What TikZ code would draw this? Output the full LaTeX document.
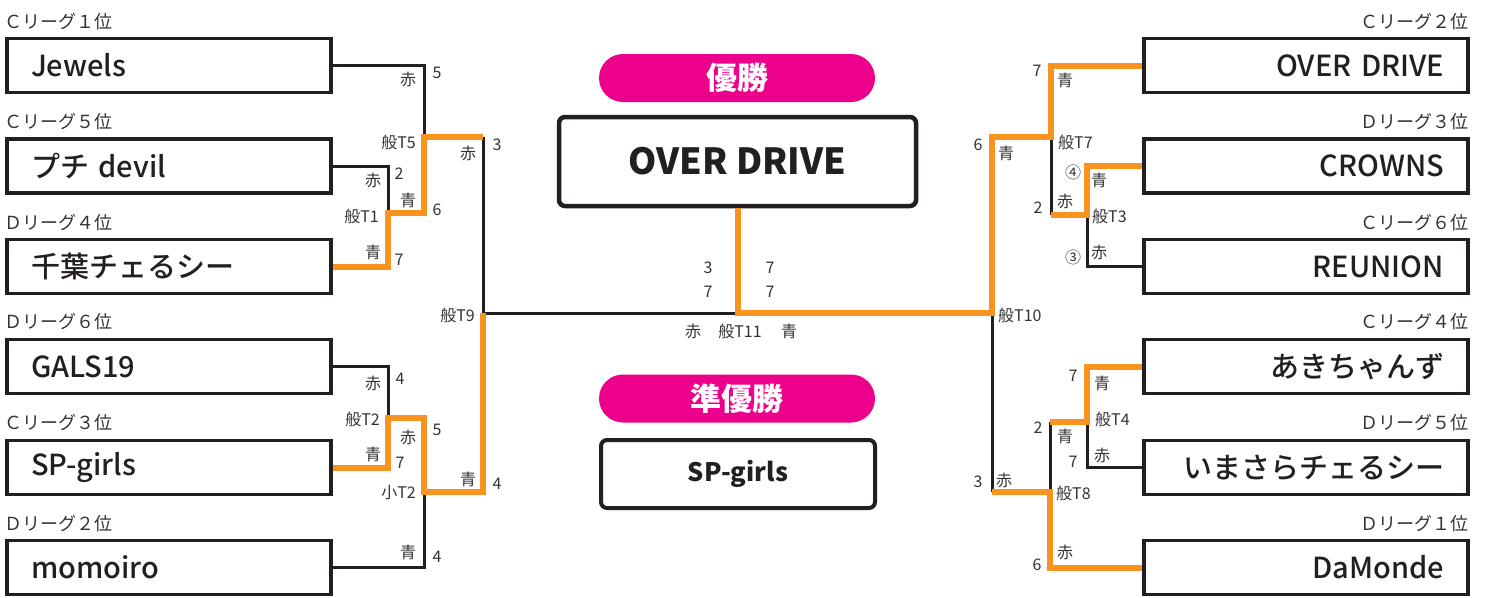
\documentclass[tikz,border=0pt]{standalone}
\usepackage{fontspec}
\setmainfont{Noto Sans CJK JP}
\newfontfamily\medfont{Noto Sans CJK JP}[UprightFont={* Medium}]
\newfontfamily\blackfont{Noto Sans CJK JP}[UprightFont={* Black}]
\definecolor{ink}{HTML}{231F20}
\definecolor{win}{HTML}{F7931E}
\definecolor{pinkc}{HTML}{EC008C}
\definecolor{lbl}{HTML}{333333}
\tikzset{
 teambox/.style={draw=ink, line width=3.2pt, minimum width=324pt, minimum height=54pt, inner xsep=24pt, inner ysep=0pt, text width=276pt, font=\medfont\fontsize{29}{34}\selectfont, text=ink},
 lteam/.style={teambox, align=left},
 rteam/.style={teambox, align=right},
 league/.style={font=\fontsize{18}{20}\selectfont, text=lbl, inner sep=0pt},
 sm/.style={font=\fontsize{16}{18}\selectfont, text=lbl, inner sep=0pt},
 blk/.style={draw=ink, line width=3pt},
 org/.style={draw=win, line width=6pt},
 pill/.style={fill=pinkc, rounded corners=24pt, minimum width=276pt, minimum height=48pt, text=white, font=\blackfont\fontsize{31}{34}\selectfont, inner sep=0pt},
 resbox/.style={draw=ink, rounded corners=6pt, text=ink, inner sep=0pt}
}
\begin{document}
\begin{tikzpicture}[x=1pt,y=-1pt]
\useasboundingbox[fill=white] (0,0) rectangle (1485,597);
% league labels
\node[league,anchor=west] (g1) at (4,22) {Ｃリーグ１位};
\node[league,anchor=west] (g2) at (4,122) {Ｃリーグ５位};
\node[league,anchor=west] (g3) at (4,223) {Ｄリーグ４位};
\node[league,anchor=west] (g4) at (4,322) {Ｄリーグ６位};
\node[league,anchor=west] (g5) at (4,423) {Ｃリーグ３位};
\node[league,anchor=west] (g6) at (4,524) {Ｄリーグ２位};
\node[league,anchor=east] (h1) at (1469,22) {Ｃリーグ２位};
\node[league,anchor=east] (h2) at (1469,122) {Ｄリーグ３位};
\node[league,anchor=east] (h3) at (1469,223) {Ｃリーグ６位};
\node[league,anchor=east] (h4) at (1469,322) {Ｃリーグ４位};
\node[league,anchor=east] (h5) at (1469,423) {Ｄリーグ５位};
\node[league,anchor=east] (h6) at (1469,524) {Ｄリーグ１位};
% team boxes
\node[lteam] (L1) at (169,65.5) {Jewels};
\node[lteam] (L2) at (169,166) {プチ devil};
\node[lteam] (L3) at (169,266.5) {千葉チェるシー};
\node[lteam] (L4) at (169,366.5) {GALS19};
\node[lteam] (L5) at (169,467.5) {SP-girls};
\node[lteam] (L6) at (169,567.5) {momoiro};
\node[rteam] (R1) at (1306,65.5) {OVER DRIVE};
\node[rteam] (R2) at (1306,166) {CROWNS};
\node[rteam] (R3) at (1306,266.5) {REUNION};
\node[rteam] (R4) at (1306,366.5) {あきちゃんず};
\node[rteam] (R5) at (1306,467.5) {いまさらチェるシー};
\node[rteam] (R6) at (1306,567.5) {DaMonde};
% centre
\node[pill] (P1) at (737,78) {優勝};
\node[pill] (P2) at (737,398.5) {準優勝};
\node[resbox, line width=4.5pt, minimum width=357pt, minimum height=89pt, font=\bfseries\fontsize{36}{40}\selectfont] (W) at (737.5,161.5) {OVER DRIVE};
\node[resbox, line width=4pt, minimum width=274pt, minimum height=68pt, font=\bfseries\fontsize{25.5}{30}\selectfont] (RU) at (738,474) {SP-girls};
% junctions
\coordinate (T1) at (388,213);
\coordinate (T5) at (424,137);
\coordinate (T2) at (388,418);
\coordinate (S2) at (424,492);
\coordinate (T9) at (483,313);
\coordinate (F) at (737.5,313);
\coordinate (T10) at (992,313);
\coordinate (T7) at (1051,137);
\coordinate (T3) at (1087,215);
\coordinate (T4) at (1087,422);
\coordinate (T8) at (1050,492);
% black lines
\draw[blk] (L1.east) -| (T5);
\draw[blk] (L2.east) -| (T1);
\draw[blk] (T5 -| T9) -- (T9) -- (F);
\draw[blk] (L4.east) -| (T2);
\draw[blk] (L6.east) -| (S2);
\draw[blk] (T3 -| T7) -- (T7);
\draw[blk] (R3.west) -| (T3);
\draw[blk] (T4 -| T8) -- (T8);
\draw[blk] (R5.west) -| (T4);
\draw[blk] (T8 -| T10) -- (T10);
% orange lines
\draw[org] (L3.east) -| (T1) -| (T5) -- (T5 -| T9);
\draw[org] (L5.east) -| (T2) -| (S2) -| (T9);
\draw[org] (W.south) |- (T10) |- (T7) |- (R1.west);
\draw[org] (R2.west) -| (T3) -- (T3 -| T7);
\draw[org] (R4.west) -| (T4) -- (T4 -| T8);
\draw[org] (R6.west) -| (T8) -- (T8 -| T10);
% left small labels
\node[sm] (a1) at (408,79) {赤};
\node[sm] (a2) at (437,73) {5};
\node[sm,anchor=east] (a3) at (416,142) {般T5};
\node[sm] (a4) at (468,153) {赤};
\node[sm] (a5) at (497,145) {3};
\node[sm] (a6) at (373,180) {赤};
\node[sm] (a7) at (399,174) {2};
\node[sm] (a8) at (408,200) {青};
\node[sm] (a9) at (437,210) {6};
\node[sm,anchor=east] (a10) at (379,216) {般T1};
\node[sm] (a11) at (373,252) {青};
\node[sm] (a12) at (399,260) {7};
\node[sm] (b1) at (373,383) {赤};
\node[sm] (b2) at (400,379) {4};
\node[sm,anchor=east] (b3) at (380,419) {般T2};
\node[sm] (b4) at (408,437) {赤};
\node[sm] (b5) at (437,430) {5};
\node[sm] (b6) at (373,454) {青};
\node[sm] (b7) at (400,463) {7};
\node[sm] (b8) at (468,479) {青};
\node[sm] (b9) at (497,484) {4};
\node[sm,anchor=east] (b10) at (416,493) {小T2};
\node[sm] (b11) at (408,552) {青};
\node[sm] (b12) at (437,557) {4};
\node[sm,anchor=east] (b13) at (475,315) {般T9};
% centre labels
\node[sm] (c1) at (708,268) {3};
\node[sm] (c2) at (708,292) {7};
\node[sm] (c3) at (770,268) {7};
\node[sm] (c4) at (770,292) {7};
\node[sm] (c5) at (693,331) {赤};
\node[sm] (c6) at (740,331) {般T11};
\node[sm] (c7) at (789,331) {青};
% right small labels
\node[sm] (d1) at (1037,71) {7};
\node[sm] (d2) at (1065,80) {青};
\node[sm] (d3) at (978,145) {6};
\node[sm] (d4) at (1006,153) {青};
\node[sm,anchor=west] (d5) at (1058,142) {般T7};
\node[sm] (d6) at (1073,172) {④};
\node[sm] (d7) at (1099,180) {青};
\node[sm] (d8) at (1038,208) {2};
\node[sm] (d9) at (1065,201) {赤};
\node[sm,anchor=west] (d10) at (1092,216) {般T3};
\node[sm] (d11) at (1073,257) {③};
\node[sm] (d12) at (1099,252) {赤};
\node[sm,anchor=west] (e1) at (998,315) {般T10};
\node[sm] (e2) at (1073,376) {7};
\node[sm] (e3) at (1102,383) {青};
\node[sm,anchor=west] (e4) at (1095,419) {般T4};
\node[sm] (e5) at (1038,428) {2};
\node[sm] (e6) at (1065,436) {青};
\node[sm] (e7) at (1073,462) {7};
\node[sm] (e8) at (1102,455) {赤};
\node[sm] (e9) at (978,482) {3};
\node[sm] (e10) at (1004,480) {赤};
\node[sm,anchor=west] (e11) at (1056,493) {般T8};
\node[sm] (e12) at (1065,552) {赤};
\node[sm] (e13) at (1037,565) {6};
\end{tikzpicture}
\end{document}
